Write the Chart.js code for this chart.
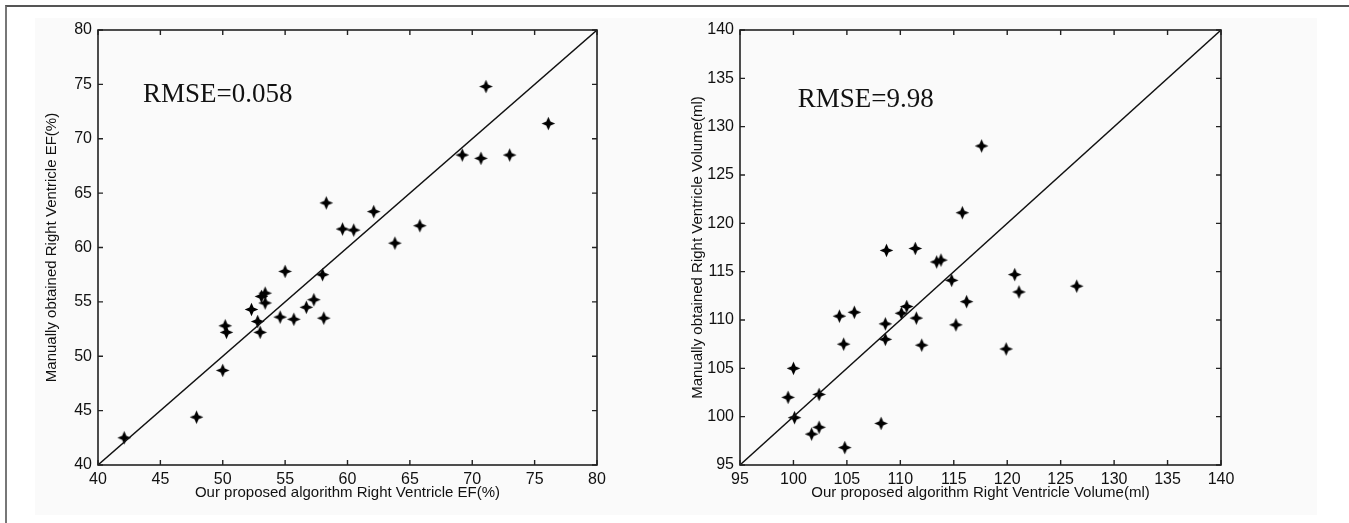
<!DOCTYPE html>
<html>
<head>
<meta charset="utf-8">
<script src="https://cdn.jsdelivr.net/npm/chart.js@4/dist/chart.umd.min.js"></script>
<style>
  html, body { margin: 0; padding: 0; background: #fff; }
  #page { position: relative; width: 1349px; height: 523px; overflow: hidden; }
  #frame { position: absolute; left: 5px; top: 5px; right: -10px; bottom: -10px; border-top: 2px solid #555; border-left: 2px solid #777; }
  #shade { position: absolute; left: 35px; top: 18px; width: 1282px; height: 497px; background: #fafafa; }
  .wrap { position: absolute; top: 0; height: 523px; }
  #left-wrap { left: 0; width: 640px; }
  #right-wrap { left: 640px; width: 709px; }
</style>
</head>
<body>
<div id="page">
  <div id="frame"></div>
  <div id="shade"></div>
  <div class="wrap" id="left-wrap"><canvas id="ef-chart"></canvas></div>
  <div class="wrap" id="right-wrap"><canvas id="vol-chart"></canvas></div>
</div>
<script>
// Right ventricle EF (%): algorithm vs manual
const efAlgo   = [42.1, 47.9, 50.0, 50.2, 50.3, 52.3, 52.8, 53.0, 53.1, 53.4, 53.4, 54.6, 55.0, 55.7, 56.7, 57.3, 58.0, 58.1, 58.3, 59.6, 60.5, 62.1, 63.8, 65.8, 69.2, 70.7, 71.1, 73.0, 76.1];
const efManual = [42.5, 44.4, 48.7, 52.8, 52.2, 54.3, 53.2, 52.2, 55.5, 55.8, 54.9, 53.6, 57.8, 53.4, 54.5, 55.2, 57.5, 53.5, 64.1, 61.7, 61.6, 63.3, 60.4, 62.0, 68.5, 68.2, 74.8, 68.5, 71.4];
const efTicks  = [40, 45, 50, 55, 60, 65, 70, 75, 80];
const efLine   = [40, 80];
const efRmse   = "RMSE=0.058";
const efRmsePos = [43.6, 73.4];

// Right ventricle volume (ml): algorithm vs manual
const volAlgo   = [99.5, 100.0, 100.1, 101.7, 102.4, 102.4, 104.3, 104.7, 104.8, 105.7, 108.2, 108.6, 108.6, 108.7, 110.1, 110.6, 111.4, 111.5, 112.0, 113.4, 113.8, 114.8, 115.2, 115.8, 116.2, 117.6, 119.9, 120.7, 121.1, 126.5];
const volManual = [102.0, 105.0, 99.9, 98.2, 98.9, 102.3, 110.4, 107.5, 96.8, 110.8, 99.3, 109.6, 108.0, 117.2, 110.7, 111.4, 117.4, 110.2, 107.4, 116.0, 116.2, 114.1, 109.5, 121.1, 111.9, 128.0, 107.0, 114.7, 112.9, 113.5];
const volTicks  = [95, 100, 105, 110, 115, 120, 125, 130, 135, 140];
const volLine   = [95, 140];
const volRmse   = "RMSE=9.98";
const volRmsePos = [100.4, 132.0];

const FONT = "'Liberation Sans', Arial, sans-serif";

function starMarker() {
  const c = document.createElement("canvas");
  c.width = 15; c.height = 15;
  const g = c.getContext("2d");
  g.fillStyle = "#000";
  g.beginPath();
  for (let i = 0; i < 8; i++) {
    const a = i * Math.PI / 4 - Math.PI / 2;
    const rad = i % 2 === 0 ? 6.8 : 3.0;
    g.lineTo(7.5 + rad * Math.cos(a), 7.5 + rad * Math.sin(a));
  }
  g.closePath();
  g.fill();
  return c;
}
const marker = starMarker();

// box around the plot, inward ticks on all four sides, RMSE label
const boxPlugin = {
  id: "box",
  afterDatasetsDraw(chart, args, opts) {
    const { ctx, chartArea: a, scales } = chart;
    ctx.save();
    ctx.strokeStyle = "#222";
    ctx.lineWidth = 1.6;
    ctx.strokeRect(a.left, a.top, a.right - a.left, a.bottom - a.top);
    ctx.lineWidth = 1.4;
    ctx.beginPath();
    opts.ticks.forEach(v => {
      const px = scales.x.getPixelForValue(v);
      ctx.moveTo(px, a.bottom); ctx.lineTo(px, a.bottom - 5);
      ctx.moveTo(px, a.top); ctx.lineTo(px, a.top + 5);
      const py = scales.y.getPixelForValue(v);
      ctx.moveTo(a.left, py); ctx.lineTo(a.left + 5, py);
      ctx.moveTo(a.right, py); ctx.lineTo(a.right - 5, py);
    });
    ctx.stroke();
    ctx.fillStyle = "#111";
    ctx.font = "27px 'Liberation Serif', 'Times New Roman', serif";
    ctx.textBaseline = "alphabetic";
    ctx.fillText(opts.label, scales.x.getPixelForValue(opts.labelPos[0]), scales.y.getPixelForValue(opts.labelPos[1]));
    ctx.restore();
  }
};

function makeChart(id, xs, ys, ticks, line, label, labelPos, xTitle, yTitle, axisWidth, yTitlePad, padRight) {
  const points = xs.map((x, i) => ({ x: x, y: ys[i] }));
  return new Chart(document.getElementById(id), {
    type: "scatter",
    data: {
      datasets: [
        {
          type: "line",
          data: line.map(v => ({ x: v, y: v })),
          borderColor: "#111",
          borderWidth: 1.4,
          pointRadius: 0,
          fill: false
        },
        {
          data: points,
          pointStyle: marker,
          pointRadius: 7
        }
      ]
    },
    options: {
      responsive: true,
      maintainAspectRatio: false,
      animation: false,
      events: [],
      layout: { padding: { top: 30, right: padRight, bottom: 0, left: 0 } },
      plugins: {
        legend: { display: false },
        tooltip: { enabled: false },
        box: { ticks: ticks, label: label, labelPos: labelPos }
      },
      scales: {
        x: {
          type: "linear",
          min: ticks[0],
          max: ticks[ticks.length - 1],
          afterBuildTicks: s => { s.ticks = ticks.map(v => ({ value: v })); },
          afterFit: s => { s.height = 58; },
          grid: { display: false, drawTicks: false },
          border: { display: false },
          ticks: { color: "#111", padding: 5, font: { family: FONT, size: 16 } },
          title: { display: true, text: xTitle, color: "#111", padding: { top: 0, bottom: 21 }, font: { family: FONT, size: 15 } }
        },
        y: {
          type: "linear",
          min: ticks[0],
          max: ticks[ticks.length - 1],
          afterBuildTicks: s => { s.ticks = ticks.map(v => ({ value: v })); },
          afterFit: s => { s.width = axisWidth; },
          grid: { display: false, drawTicks: false },
          border: { display: false },
          ticks: { color: "#111", padding: 6, font: { family: FONT, size: 16 } },
          title: { display: true, text: yTitle, color: "#111", padding: { top: yTitlePad, bottom: 0 }, font: { family: FONT, size: 15 } }
        }
      }
    },
    plugins: [boxPlugin]
  });
}

makeChart("ef-chart", efAlgo, efManual, efTicks, efLine, efRmse, efRmsePos,
  "Our proposed algorithm Right Ventricle EF(%)", "Manually obtained Right Ventricle EF(%)", 98, 43, 43);
makeChart("vol-chart", volAlgo, volManual, volTicks, volLine, volRmse, volRmsePos,
  "Our proposed algorithm Right Ventricle Volume(ml)", "Manually obtained Right Ventricle Volume(ml)", 100, 49, 128);
</script>
</body>
</html>
